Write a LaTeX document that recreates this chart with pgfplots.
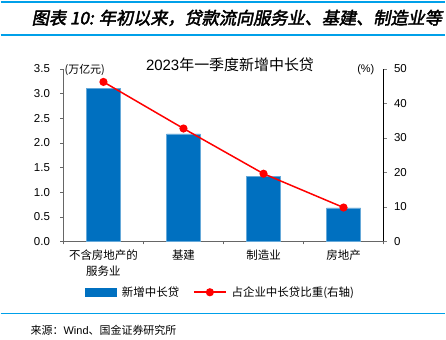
\documentclass[border=0pt]{standalone}
\usepackage{pgfplots}
\pgfplotsset{compat=1.18}
\usepackage{fontspec}
\setmainfont{Liberation Sans}
\newfontfamily\cjk{Noto Sans CJK SC}
\newfontfamily\cjktitle{Noto Sans CJK SC}[FakeSlant=0.2,FakeBold=2.5]
\definecolor{barblue}{HTML}{0070C0}
\definecolor{lineblue}{HTML}{00A0E9}
\begin{document}
\begin{tikzpicture}[x=1pt,y=1pt]
\path[fill=white] (0,0) rectangle (446,340);
% header
\draw[lineblue,line width=1.2pt] (0,338) -- (446,338);
\draw[lineblue,line width=1.2pt] (0,305) -- (446,305);
\node[anchor=west,inner sep=0pt,font=\fontsize{17.2}{19}\selectfont] at (31,322) {\cjktitle 图表 10: 年初以来，贷款流向服务业、基建、制造业等};
\draw[lineblue,line width=1.2pt] (0,26) -- (446,26);
\node[anchor=west,inner sep=0pt,font=\fontsize{11}{13}\selectfont] at (30,9) {\cjk 来源：\rmfamily Wind\cjk 、国金证券研究所};
\node[inner sep=0pt,font=\fontsize{15}{17}\selectfont] at (230,275) {2023\cjk 年一季度新增中长贷};
\begin{axis}[
  at={(63pt,98pt)}, anchor=south west,
  scale only axis, width=321pt, height=173pt,
  xmin=-0.5, xmax=3.5, ymin=0, ymax=3.5,
  ytick={0,0.5,...,3.5},
  yticklabel style={/pgf/number format/fixed,/pgf/number format/fixed zerofill,/pgf/number format/precision=1},
  /pgf/number format/assume math mode=true,
  axis y line*=left, axis x line*=bottom,
  axis line style={gray!80!black},
  xtick={-0.5,0.5,1.5,2.5,3.5}, xticklabels={},
  extra x ticks={0,1,2,3}, extra x tick style={major tick length=0pt},
  extra x tick labels={{\cjk 不含房地产的}\\{\cjk 服务业},{\cjk 基建},{\cjk 制造业},{\cjk 房地产}},
  xticklabel style={align=center,font=\fontsize{11.5}{16}\selectfont,yshift=-5pt},
  tick align=outside, major tick length=3pt,
  tick style={gray!80!black},
  yticklabel style={font=\fontsize{11.5}{13}\selectfont,xshift=-7pt},
  ybar, bar width=34pt,
  clip=false,
]
\addplot[fill=barblue, draw=barblue!60!white, line width=0.4pt] coordinates {(0,3.10) (1,2.18) (2,1.32) (3,0.68)};
\node[anchor=west,inner sep=0pt,font=\fontsize{11}{13}\selectfont] at (rel axis cs:0.003,0.995) {\cjk (万亿元)};
\node[anchor=east,inner sep=0pt,font=\fontsize{11}{13}\selectfont] at (rel axis cs:0.972,0.995) {(\%)};
\end{axis}
\begin{axis}[
  at={(63pt,98pt)}, anchor=south west,
  scale only axis, width=321pt, height=173pt,
  xmin=-0.5, xmax=3.5, ymin=0, ymax=50,
  ytick={0,10,...,50},
  axis y line*=right, axis x line=none,
  /pgf/number format/assume math mode=true,
  tick align=outside, major tick length=3pt,
  yticklabel style={font=\fontsize{11.5}{13}\selectfont,xshift=4pt},
  clip=false,
  legend style={at={(0.49,-0.295)}, anchor=center, draw=none, legend columns=2,
    font=\fontsize{11.5}{13}\selectfont, column sep=3pt,
    /tikz/every even column/.append style={column sep=12pt}},
  legend cell align=left,
]
\addlegendimage{legend image code/.code={\fill[barblue] (0pt,-4pt) rectangle (32pt,4pt);}}
\addlegendentry{\cjk 新增中长贷}
\addplot[red, line width=1.5pt, mark=*, mark size=3.3pt,
  legend image code/.code={\draw[red,line width=1.5pt] (0pt,0pt) -- (32pt,0pt); \fill[red] (16pt,0pt) circle (3.3pt);}]
  coordinates {(0,46.2) (1,32.7) (2,19.6) (3,9.8)};
\addlegendentry{\cjk 占企业中长贷比重(右轴)}
\end{axis}
\end{tikzpicture}
\end{document}
